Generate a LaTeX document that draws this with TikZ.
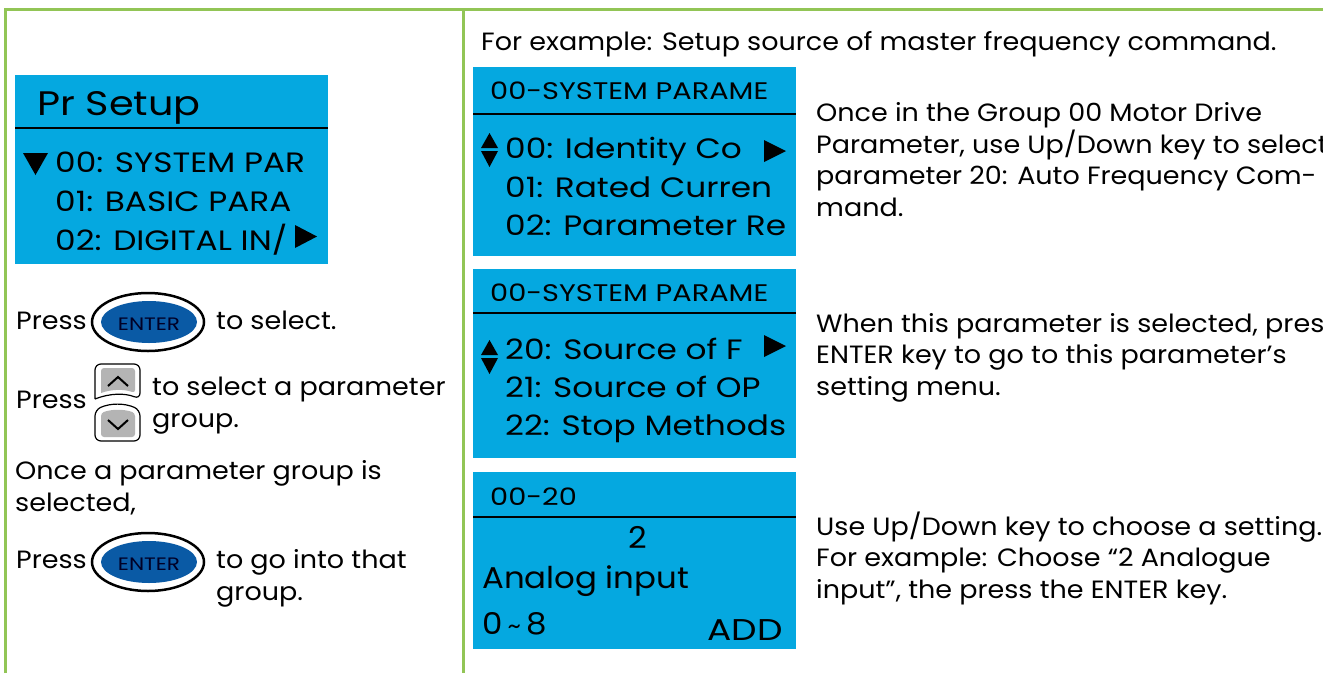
\documentclass[tikz,border=0pt]{standalone}
\usepackage{fontspec}
\setmainfont{Poppins}[FakeStretch=1.08]
\newfontfamily\lcdfont{Poppins}[FakeStretch=1.17]
\newfontfamily\headfont{Poppins}[FakeStretch=1.2]
\definecolor{lcd}{HTML}{05A8E0}
\definecolor{frame}{HTML}{92C556}
\definecolor{enterblue}{HTML}{0A5AA5}
\definecolor{keygray}{HTML}{B4B4B4}
\begin{document}
\begin{tikzpicture}[x=1pt,y=-1pt,
  txt/.style={anchor=base west,inner sep=0pt,align=left,font=\fontsize{25}{31.5}\selectfont},
  row/.style={anchor=base west,inner sep=0pt,font=\lcdfont\fontsize{28}{39}\selectfont},
  head/.style={anchor=base west,inner sep=0pt,font=\headfont\fontsize{24}{24}\selectfont},
  big/.style={anchor=base west,inner sep=0pt,font=\fontsize{30}{30}\selectfont},
  hline/.style={line width=2pt}]
\useasboundingbox (0,0) rectangle (1323,673);
\clip (0,0) rectangle (1323,673);
\fill[white] (0,0) rectangle (1323,673);
% frame
\draw[frame,line width=3pt] (5,673) -- (5,9) -- (1323,9) (463,9) -- (463,673);
% left screen
\fill[lcd] (15,75) rectangle (328,264);
\draw[hline] (15,128) -- (328,128);
\node[anchor=base west,inner sep=0pt,font=\lcdfont\fontsize{34}{34}\selectfont] (prsetup) at (37,115) {Pr Setup};
\node[row] (g00) at (55,172) {00: SYSTEM PAR};
\node[row] (g01) at (55,211) {01: BASIC PARA};
\node[row] (g02) at (55,250) {02: DIGITAL IN/};
\fill (23,153) -- (48,153) -- (35.5,175) -- cycle;
\fill (295,225) -- (295,248) -- (317,236.5) -- cycle;
% enter keys
\foreach \cy/\nm in {322/enterA,562/enterB}{
  \draw[line width=2.5pt,fill=white] (148,\cy) ellipse [x radius=56,y radius=29];
  \fill[enterblue] (149,\cy) ellipse [x radius=48,y radius=21];
  \node[inner sep=0pt,font=\headfont\fontsize{18}{18}\selectfont,text=black!85!blue] (\nm) at (149,\cy+2) {ENTER};
}
% up/down keys
\draw[line width=1.2pt,fill=white,rounded corners=6pt] (95,399) -- (95,364) -- (140,364) -- (140,399) .. controls (125,393) and (110,393) .. (95,399);
\fill[keygray,rounded corners=3pt] (101,393) -- (101,368) -- (135,368) -- (135,393) .. controls (124,389) and (112,389) .. (101,393);
\draw[line width=1.2pt,fill=white,rounded corners=6pt] (95,410) .. controls (110,403) and (125,403) .. (140,410) -- (140,441) -- (95,441) -- cycle;
\fill[keygray,rounded corners=3pt] (101,413) .. controls (112,409) and (124,409) .. (135,413) -- (135,437) -- (101,437) -- cycle;
\draw[line width=2pt] (108,386) -- (118,377) -- (128,386);
\draw[line width=2pt] (108,420) -- (118,429) -- (128,420);
% left texts (base = last line)
\node[txt] (press1) at (16,329) {Press};
\node[txt] (select1) at (216,329) {to select.};
\node[txt] (press2) at (16,408) {Press};
\node[txt] (select2) at (152,427) {to select a parameter\\group.};
\node[txt] (once) at (15,511) {Once a parameter group is\\selected,};
\node[txt] (press3) at (16,568) {Press};
\node[txt] (into) at (216,600) {to go into that\\group.};
% right side
\node[txt] (example) at (481,50) {For example: Setup source of master frequency command.};
\fill[lcd] (473,67) rectangle (796,256);
\draw[hline] (473,114) -- (796,114);
\node[head] (headA) at (490,99) {00-SYSTEM PARAME};
\node[row] (p00) at (505,158) {00: Identity Co};
\node[row] (p01) at (505,197) {01: Rated Curren};
\node[row] (p02) at (505,235) {02: Parameter Re};
\fill[lcd] (473,269) rectangle (796,458);
\draw[hline] (473,313) -- (796,313);
\node[head] (headB) at (490,301) {00-SYSTEM PARAME};
\node[row] (p20) at (505,359) {20: Source of F};
\node[row] (p21) at (505,397) {21: Source of OP};
\node[row] (p22) at (505,435) {22: Stop Methods};
\foreach \ty in {133,340}{
  \fill (481,\ty+15) -- (498,\ty+15) -- (489.5,\ty) -- cycle;
  \fill (481,\ty+18) -- (498,\ty+18) -- (489.5,\ty+34) -- cycle;
}
\foreach \ty in {140,335}
  \fill (764,\ty) -- (764,\ty+22) -- (786,\ty+11) -- cycle;
\fill[lcd] (473,472) rectangle (796,649);
\draw[hline] (473,517) -- (796,517);
\node[head] (headC) at (490,505) {00-20};
\node[big,anchor=base] (value) at (638,548) {2};
\node[big] (analog) at (482,588) {Analog input};
\node[big] (range) at (482,634) {0\,{\fontsize{24}{24}\selectfont\textasciitilde}\,8};
\node[big,anchor=base east,font=\headfont\fontsize{30}{30}\selectfont] (add) at (783,640) {ADD};
\node[txt] (stepA) at (816,216) {Once in the Group 00 Motor Drive\\Parameter, use Up/Down key to select\\parameter 20: Auto Frequency Com-\\mand.};
\node[txt] (stepB) at (816,395) {When this parameter is selected, pres\\ENTER key to go to this parameter’s\\setting menu.};
\node[txt] (stepC) at (816,598) {Use Up/Down key to choose a setting.\\For example: Choose “2 Analogue\\input”, the press the ENTER key.};
\end{tikzpicture}
\end{document}
